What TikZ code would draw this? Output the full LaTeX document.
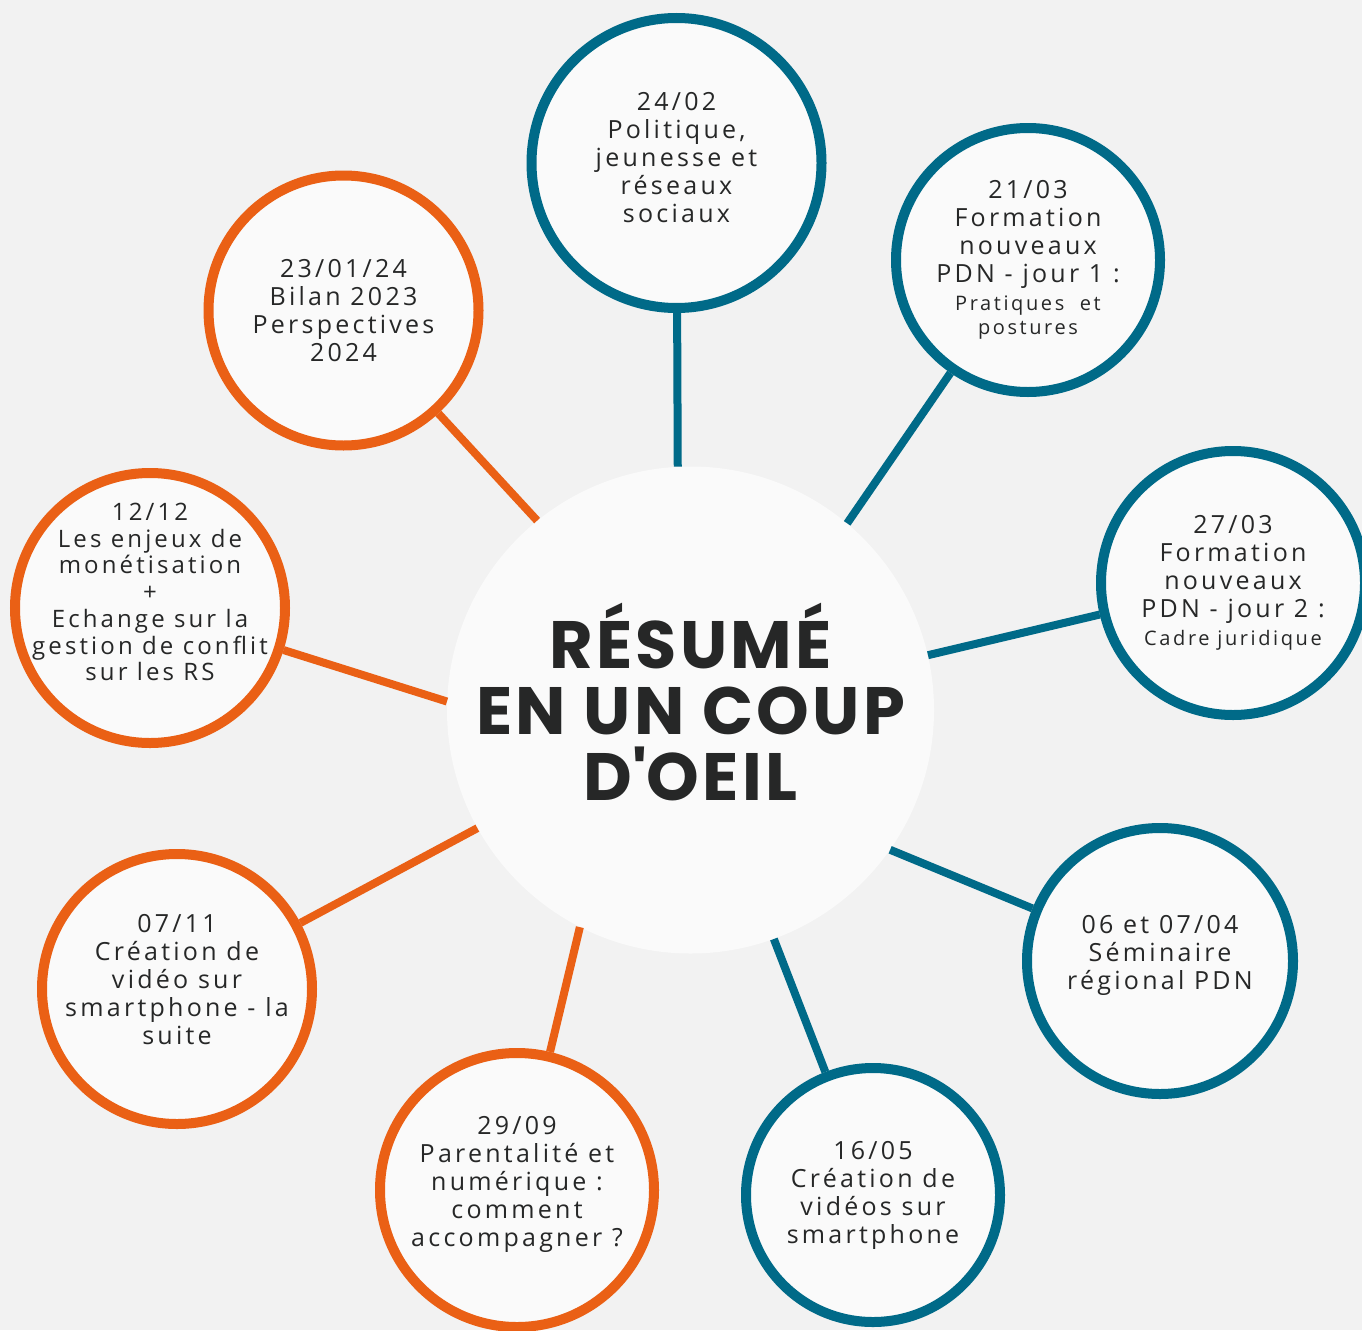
\documentclass[tikz,border=0pt]{standalone}
\usepackage{fontspec}
\setmainfont{Open Sans}[LetterSpace=13]
\newfontfamily\titlefont{Poppins}[LetterSpace=5]
\definecolor{teal1}{HTML}{006A88}
\definecolor{orng}{HTML}{EA6015}
\definecolor{bg}{HTML}{F2F2F2}
\definecolor{disc}{HTML}{FAFAFA}
\definecolor{ink}{HTML}{262727}
\newcommand{\sm}{\fontsize{20}{24}\selectfont}

\begin{document}
\begin{tikzpicture}[x=1pt, y=-1pt, hub/.style={circle, fill=disc, minimum size=487pt, inner sep=-20pt, align=center, text=ink, font=\titlefont\bfseries\fontsize{67}{66}\selectfont}, ev/.style={circle, draw, line width=10pt, fill=disc, inner sep=-30pt, align=center, text=ink, font=\fontsize{25}{28}\selectfont}, t/.style={draw=teal1}, o/.style={draw=orng}, l/.style={line width=8pt}]
		\fill[bg] (0,0) rectangle (1362,1330);
		\useasboundingbox (0,0) rectangle (1362,1330);

		\node[hub, text depth=17pt] (H) at (690.5,710) {RÉSUMÉ\\EN UN COUP\\D\textquotesingle OEIL};

		\node[ev, t, minimum size=290pt, text depth=12pt] (D1) at (676.5,163) {24/02\\Politique,\\jeunesse et\\réseaux\\sociaux};
		\node[ev, t, minimum size=264pt] (D2) at (1028,260) {21/03\\Formation\\nouveaux\\PDN - jour 1 :\\ \sm Pratiques~ et\\[-4pt] \sm postures};
		\node[ev, t, minimum size=264pt] (D3) at (1233,583) {27/03\\Formation\\nouveaux\\PDN - jour 2 :\\ \sm Cadre juridique};
		\node[ev, t, minimum size=266pt, text depth=18pt] (D4) at (1160,961) {06 et 07/04\\Séminaire\\régional PDN};
		\node[ev, t, minimum size=254pt] (D5) at (873,1195) {16/05\\Création de\\vidéos sur\\smartphone};
		\node[ev, o, minimum size=274pt, text depth=17pt] (D6) at (517,1190) {29/09\\Parentalité et\\numérique :\\comment\\accompagner ?};
		\node[ev, o, minimum size=270pt, text depth=20pt] (D7) at (177,989) {07/11\\Création de\\vidéo sur\\smartphone - la\\suite};
		\node[ev, o, minimum size=270pt, font=\fontsize{24}{26.7}\selectfont, text depth=32pt] (D8) at (150,608) {12/12\\Les enjeux de\\monétisation\\+\\Echange sur la\\gestion de conflit\\sur les RS};
		\node[ev, o, minimum size=270pt] (D9) at (343.5,310.5) {23/01/24\\Bilan 2023\\Perspectives\\2024};

		\draw[l, teal1] (H.93) -- (D1);
		\draw[l, teal1] (H.50) -- (D2);
		\draw[l, teal1] (H.13) -- (D3);
		\draw[l, teal1] (H.-35) -- (D4);
		\draw[l, teal1] (H.-70) -- (D5);
		\draw[l, orng] (H.243) -- (D6);
		\draw[l, orng] (H.209) -- (D7);
		\draw[l, orng] (H.178) -- (D8);
		\draw[l, orng] (H.129) -- (D9);
	\end{tikzpicture}
\end{document}
